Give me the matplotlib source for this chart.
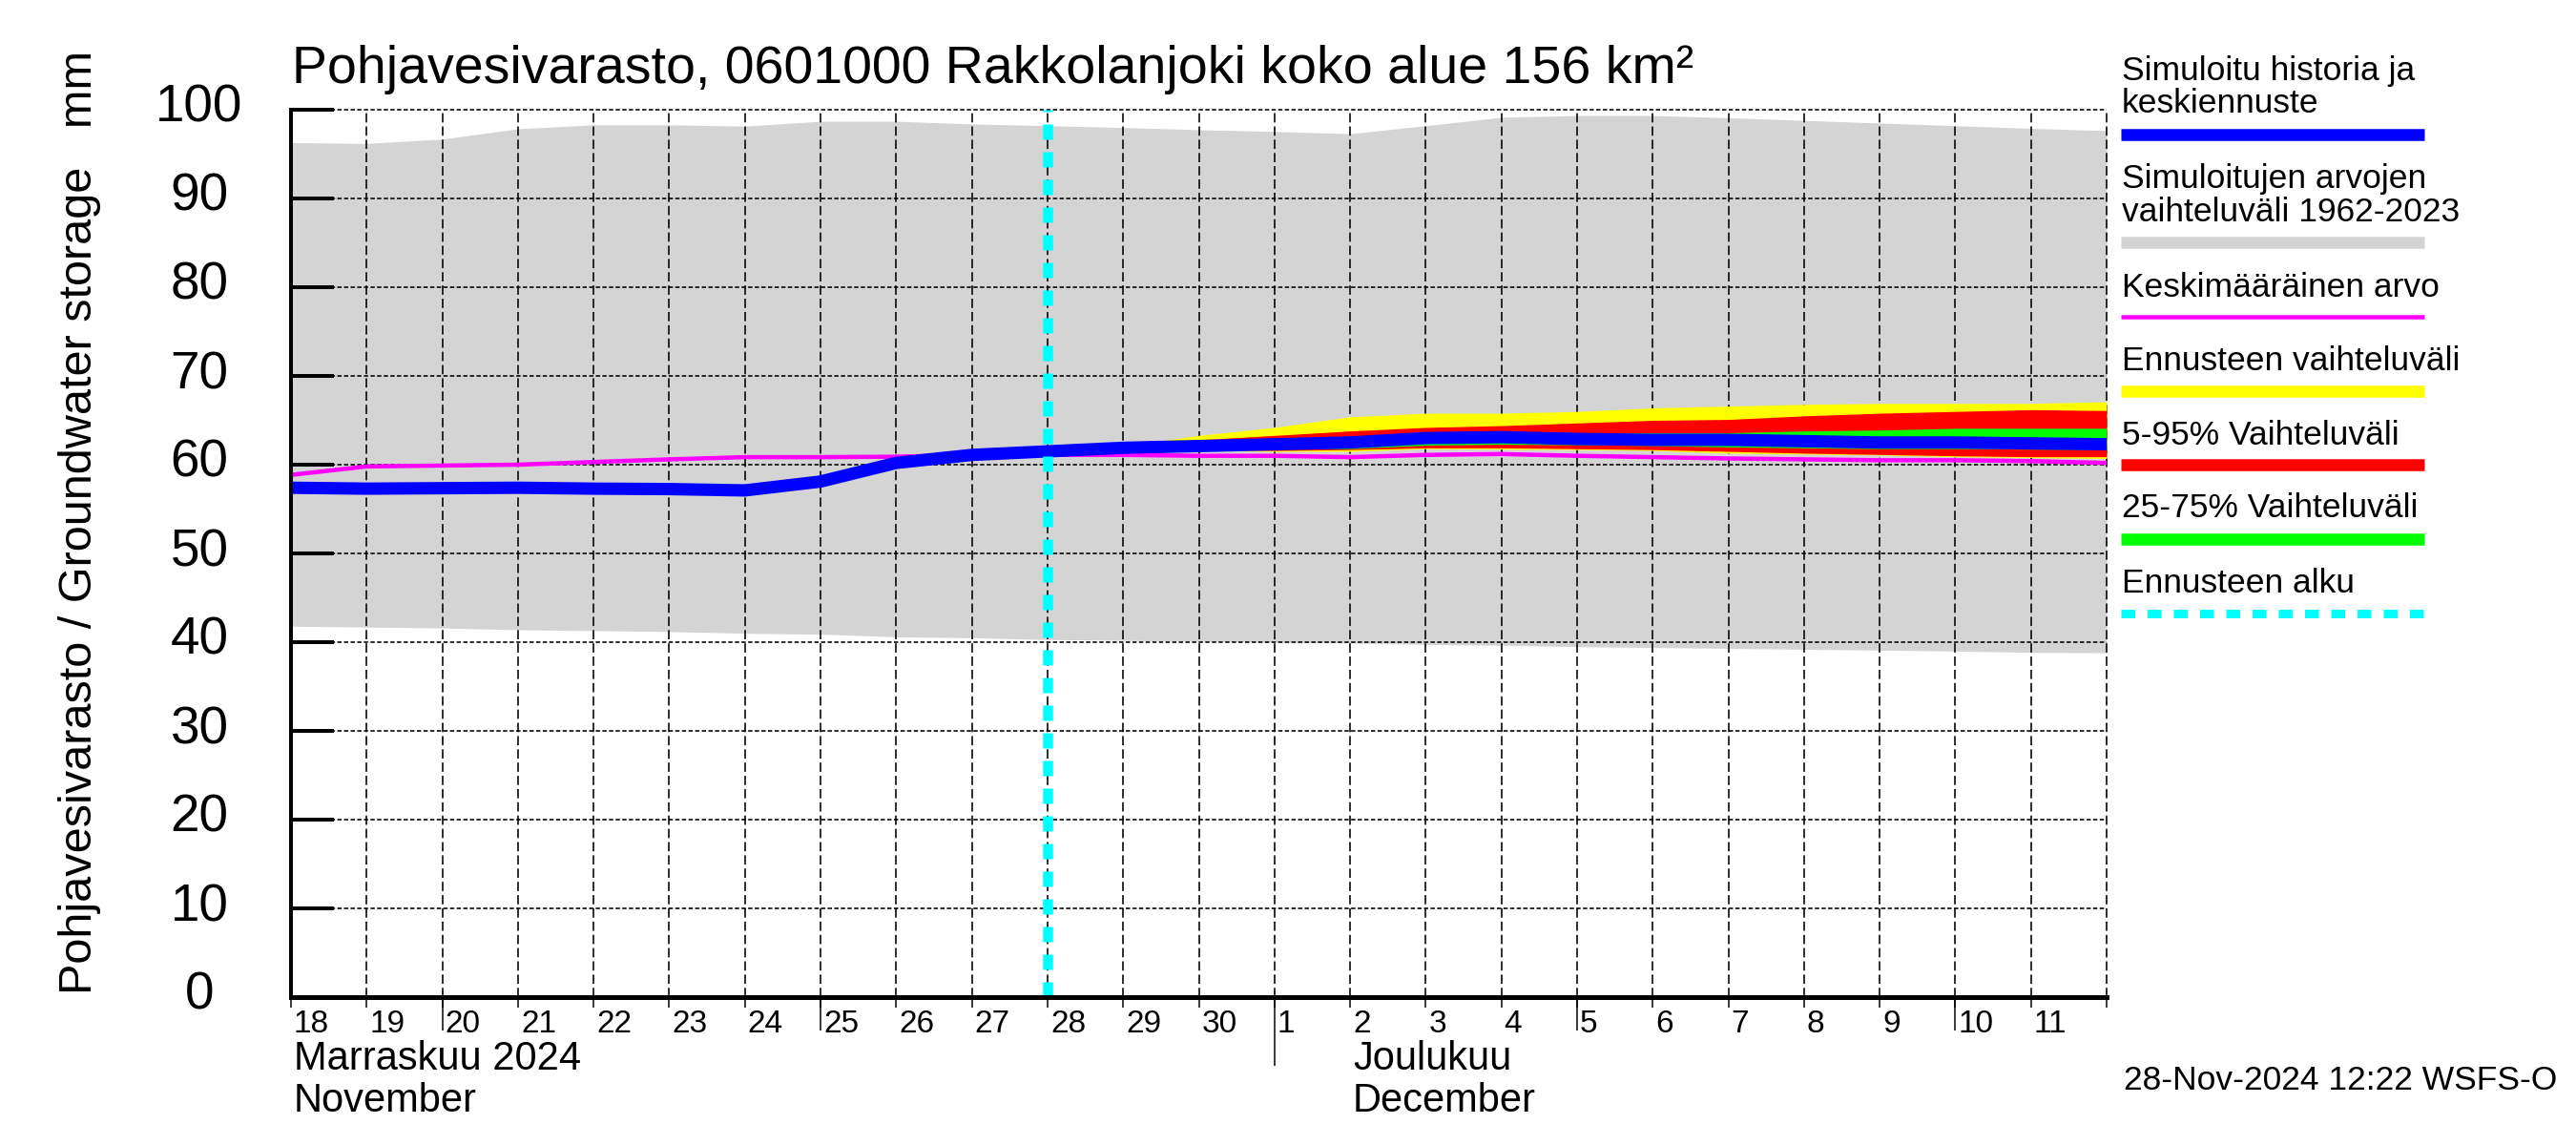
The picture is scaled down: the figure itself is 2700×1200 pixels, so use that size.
import matplotlib
matplotlib.use("Agg")
import matplotlib.pyplot as plt
from matplotlib.lines import Line2D
from matplotlib import transforms
import numpy as np

plt.rcParams['font.family'] = ['Liberation Sans', 'DejaVu Sans']
plt.rcParams['lines.scale_dashes'] = False

# ---------------- data ----------------
# day index 0 = 18 Nov 2024 ... 24 = 12 Dec 2024
days = list(range(25))
day_labels = ['18', '19', '20', '21', '22', '23', '24', '25', '26', '27', '28', '29', '30',
              '1', '2', '3', '4', '5', '6', '7', '8', '9', '10', '11']
five_day_marks = [2, 7, 17, 22]     # 20 Nov, 25 Nov, 5 Dec, 10 Dec
month_start = 13                    # 1 Dec
forecast_start = 10                 # 28 Nov

range_upper = [96.3, 96.2, 96.7, 97.85, 98.3, 98.3, 98.15, 98.7, 98.7, 98.4, 98.2, 98.0, 97.75,
               97.55, 97.3, 98.2, 99.15, 99.35, 99.35, 99.1, 98.8, 98.5, 98.2, 97.9, 97.65]
range_lower = [41.8, 41.7, 41.6, 41.4, 41.3, 41.2, 41.0, 40.9, 40.6, 40.5, 40.3, 40.2, 40.1,
               40.0, 39.9, 39.75, 39.65, 39.5, 39.4, 39.3, 39.2, 39.1, 39.0, 38.85, 38.8]
mean_value = [58.85, 59.8, 59.9, 60.0, 60.3, 60.6, 60.85, 60.85, 60.9, 61.1, 61.1, 61.1, 61.0,
              61.0, 60.85, 61.1, 61.2, 61.0, 60.85, 60.7, 60.6, 60.5, 60.5, 60.4, 60.2]
simulated = [57.4, 57.3, 57.35, 57.4, 57.3, 57.25, 57.1, 58.1, 60.2, 61.1, 61.5, 61.9, 62.1,
             62.3, 62.5, 63.0, 63.1, 62.9, 62.8, 62.8, 62.65, 62.5, 62.5, 62.4, 62.3]

fc_days = list(range(10, 25))
fc_max = [61.5, 62.1, 63.3, 64.2, 65.4, 65.8, 65.8, 66.0, 66.4, 66.6, 66.8, 66.9, 66.9, 66.9, 67.1]
fc_p95 = [61.5, 62.0, 62.8, 63.3, 63.8, 64.2, 64.4, 64.7, 65.0, 65.1, 65.5, 65.8, 66.0, 66.2, 66.1]
fc_p75 = [61.5, 61.95, 62.4, 62.8, 63.1, 63.5, 63.6, 63.6, 63.6, 63.6, 63.8, 63.9, 64.1, 64.1, 64.1]
fc_p25 = [61.5, 61.85, 61.9, 61.8, 61.8, 62.2, 62.3, 62.25, 62.15, 62.0, 61.9, 61.8, 61.8, 61.75, 61.7]
fc_p05 = [61.5, 61.8, 61.7, 61.6, 61.7, 61.9, 61.9, 61.8, 61.7, 61.5, 61.3, 61.15, 61.0, 60.9, 60.9]
fc_min = [61.5, 61.75, 61.6, 61.5, 61.5, 61.8, 61.75, 61.7, 61.6, 61.3, 61.2, 61.1, 60.9, 60.8, 60.7]

y_ticks = [0, 10, 20, 30, 40, 50, 60, 70, 80, 90, 100]

title = "Pohjavesivarasto, 0601000 Rakkolanjoki koko alue 156 km²"
ylabel = "Pohjavesivarasto / Groundwater storage   mm"
month_labels = [("Marraskuu 2024", "November", 0), ("Joulukuu", "December", 14)]
footer = "28-Nov-2024 12:22 WSFS-O"

legend_entries = [
    (["Simuloitu historia ja", "keskiennuste"], "#0000ff", "solid"),
    (["Simuloitujen arvojen", "vaihteluväli 1962-2023"], "#d3d3d3", "solid"),
    (["Keskimääräinen arvo"], "#ff00ff", "solid"),
    (["Ennusteen vaihteluväli"], "#ffff00", "solid"),
    (["5-95% Vaihteluväli"], "#ff0000", "solid"),
    (["25-75% Vaihteluväli"], "#00ff00", "solid"),
    (["Ennusteen alku"], "#00ffff", "dashed"),
]

# ---------------- layout ----------------
W, H = 2700, 1200
def fx(px):
    return px / W
def fy(py):
    return 1 - py / H
def pt(px):
    return px * 0.72

fig = plt.figure(figsize=(27, 12), dpi=100)
ax_l, ax_r, ax_t, ax_b = 305, 2208, 115, 1045
ax = fig.add_axes([fx(ax_l), fy(ax_b), (ax_r - ax_l) / W, (ax_b - ax_t) / H])
ax.set_xlim(0, 24)
ax.set_ylim(0, 100)

for s in ['top', 'right']:
    ax.spines[s].set_visible(False)
ax.spines['left'].set_linewidth(pt(4))
ax.spines['bottom'].set_linewidth(pt(5))
ax.spines['left'].set_zorder(6)
ax.spines['bottom'].set_zorder(6)

# grey range
ax.fill_between(days, range_lower, range_upper, color='#d4d4d4', lw=0, zorder=1)

# grid
for y in y_ticks[1:]:
    ax.axhline(y, color='black', lw=pt(1.6), linestyle=(0, (3.2, 1.8)), zorder=1.5, clip_on=False)
for d in days[1:]:
    ax.axvline(d, color='black', lw=pt(1.6), linestyle=(0, (7, 3)), zorder=1.5, clip_on=False)

# forecast bands
ax.fill_between(fc_days, fc_min, fc_max, color='#ffff00', lw=0, zorder=2)
ax.fill_between(fc_days, fc_p05, fc_p95, color='#ff0000', lw=0, zorder=2.1)
ax.fill_between(fc_days, fc_p25, fc_p75, color='#00ff00', lw=0, zorder=2.2)

ax.plot(days, mean_value, color='#ff00ff', lw=pt(4.5), zorder=3, solid_capstyle='butt')
ax.plot(days, simulated, color='#0000ff', lw=pt(13), zorder=4, solid_capstyle='butt')
ax.axvline(forecast_start, color='#00ffff', lw=pt(10.5), linestyle=(0, (pt(16), pt(13))), zorder=5)

# ticks
ax.set_yticks(y_ticks)
ax.tick_params(axis='y', direction='in', length=pt(45), width=pt(4), labelleft=False)
ax.set_xticks(days)
ax.tick_params(axis='x', direction='out', length=pt(11), width=pt(1.5), labelbottom=False)
ax.vlines(five_day_marks, 0, -35 / (ax_b - ax_t), transform=ax.get_xaxis_transform(),
          color='black', lw=pt(1.5), clip_on=False)
ax.vlines([month_start], 0, -72 / (ax_b - ax_t), transform=ax.get_xaxis_transform(),
          color='black', lw=pt(1.5), clip_on=False)

# y tick labels
ytr = transforms.offset_copy(ax.get_yaxis_transform(), fig=fig, x=-96, y=1, units='dots')
for v in y_ticks:
    ax.text(0, v, str(v), transform=ytr, ha='center', va='center', fontsize=39.5)

# x tick labels
xtr = transforms.offset_copy(ax.get_xaxis_transform(), fig=fig, x=3, y=-37, units='dots')
for d, lab in zip(days, day_labels):
    ax.text(d, 0, lab, transform=xtr, ha='left', va='baseline', fontsize=24)

mtr1 = transforms.offset_copy(ax.get_xaxis_transform(), fig=fig, x=3, y=-76, units='dots')
mtr2 = transforms.offset_copy(ax.get_xaxis_transform(), fig=fig, x=3, y=-120, units='dots')
for fi, en, d in month_labels:
    ax.text(d, 0, fi, transform=mtr1, ha='left', va='baseline', fontsize=30)
    ax.text(d, 0, en, transform=mtr2, ha='left', va='baseline', fontsize=30)

# title, ylabel, footer
fig.text(fx(306), fy(87), title, ha='left', va='baseline', fontsize=40)
fig.text(fx(84), fy(547), ylabel, rotation=90, ha='center', va='center', fontsize=35)
fig.text(fx(2680), fy(1142), footer, ha='right', va='baseline', fontsize=25.5)

# legend
text_baselines = [[84, 118], [197, 232], [311], [388], [466], [542], [621]]
bar_y = [141, 254, 332, 409.5, 487, 565, 642.5]
bar_w = [12.5, 12.5, 4.5, 12.5, 12.5, 12.5, 9]
lx0, lx1 = 2223, 2541
for (lines, col, style), bls, by, bw in zip(legend_entries, text_baselines, bar_y, bar_w):
    for line, bl in zip(lines, bls):
        fig.text(fx(2224), fy(bl), line, ha='left', va='baseline', fontsize=25.5)
    ls = (0, (pt(14.5), pt(13))) if style == 'dashed' else 'solid'
    fig.add_artist(Line2D([fx(lx0), fx(lx1)], [fy(by), fy(by)], transform=fig.transFigure,
                          color=col, lw=pt(bw), linestyle=ls, solid_capstyle='butt',
                          dash_capstyle='butt'))

fig.savefig('out.png', dpi=100)
